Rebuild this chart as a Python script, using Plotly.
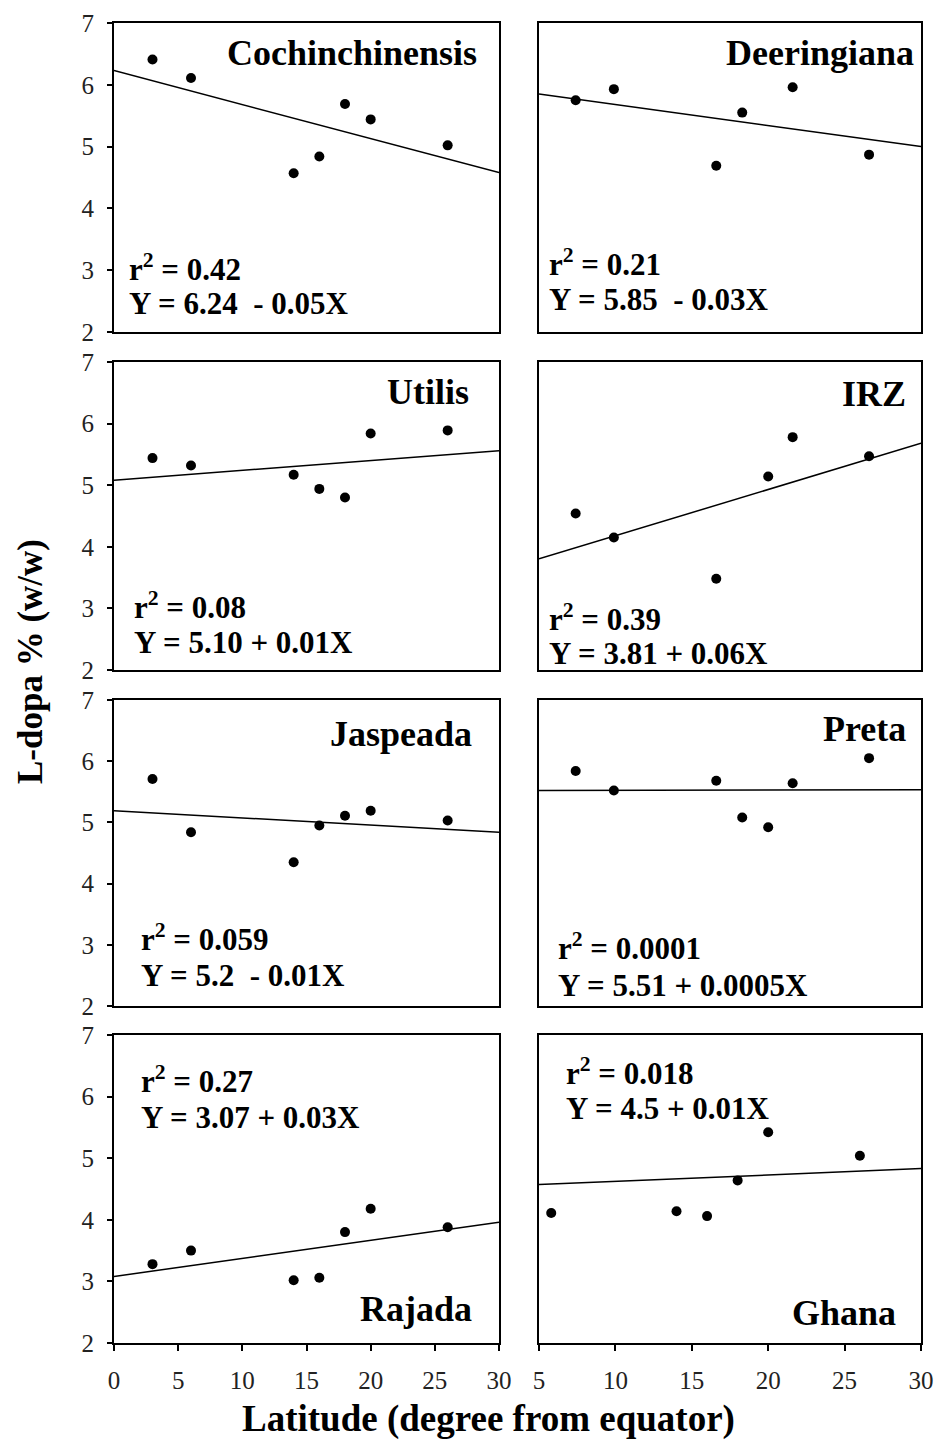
import plotly.graph_objects as go

W, H = 936, 1442

# ---------------- data ----------------
panel_names = ["Cochinchinensis", "Deeringiana", "Utilis", "IRZ",
               "Jaspeada", "Preta", "Rajada", "Ghana"]

lat_left = [3, 6, 14, 16, 18, 20, 26]
cochin_ldopa = [6.41, 6.11, 4.57, 4.84, 5.69, 5.44, 5.02]
utilis_ldopa = [5.44, 5.32, 5.17, 4.94, 4.80, 5.84, 5.89]
jaspeada_ldopa = [5.71, 4.84, 4.35, 4.95, 5.11, 5.19, 5.03]
rajada_ldopa = [3.28, 3.50, 3.02, 3.06, 3.80, 4.18, 3.88]

deer_lat = [7.4, 9.9, 16.6, 18.3, 21.6, 26.6]
deer_ldopa = [5.75, 5.93, 4.69, 5.55, 5.96, 4.87]
irz_lat = [7.4, 9.9, 16.6, 20.0, 21.6, 26.6]
irz_ldopa = [4.54, 4.15, 3.48, 5.14, 5.78, 5.47]
preta_lat = [7.4, 9.9, 16.6, 18.3, 20.0, 21.6, 26.6]
preta_ldopa = [5.84, 5.52, 5.68, 5.08, 4.92, 5.64, 6.05]
ghana_lat = [5.8, 14, 16, 18, 20, 26]
ghana_ldopa = [4.11, 4.14, 4.06, 4.64, 5.42, 5.04]

# drawn regression lines (intercept, slope)
fit_intercept = [6.23, 6.02, 5.08, 3.43, 5.19, 5.52, 3.08, 4.52]
fit_slope = [-0.055, -0.034, 0.016, 0.075, -0.0117, 0.0005, 0.0293, 0.0104]

r2_labels = ["0.42", "0.21", "0.08", "0.39", "0.059", "0.0001", "0.27", "0.018"]
eq_labels = ["Y = 6.24 \u00a0- 0.05X", "Y = 5.85 \u00a0- 0.03X", "Y = 5.10 + 0.01X",
             "Y = 3.81 + 0.06X", "Y = 5.2 \u00a0- 0.01X", "Y = 5.51 + 0.0005X",
             "Y = 3.07 + 0.03X", "Y = 4.5 + 0.01X"]

left_xticks = [0, 5, 10, 15, 20, 25, 30]
right_xticks = [5, 10, 15, 20, 25, 30]
yticks = [2, 3, 4, 5, 6, 7]

xs = [lat_left, deer_lat, lat_left, irz_lat, lat_left, preta_lat, lat_left, ghana_lat]
ys = [cochin_ldopa, deer_ldopa, utilis_ldopa, irz_ldopa,
      jaspeada_ldopa, preta_ldopa, rajada_ldopa, ghana_ldopa]

# ---------------- layout geometry (pixels) ----------------
col_px = [(114, 499), (539, 921)]
row_px = [(23, 332), (362, 670), (700, 1006), (1035, 1343)]
xranges = [[0, 30], [5, 30]]

FONT = "Liberation Serif, Times New Roman, serif"

# label placement: (px x, px y, xanchor) for name, r2 line, eq line
name_pos = [(479, 53, "right"), (916, 53, "right"), (471, 392, "right"), (908, 394, "right"),
            (474, 734, "right"), (908, 729, "right"), (474, 1309, "right"), (898, 1313, "right")]
r2_pos = [(127, 267), (547, 262), (132, 605), (547, 617),
          (139, 937), (556, 946), (139, 1079), (564, 1071)]
eq_pos = [(127, 303), (547, 299), (132, 642), (547, 653),
          (139, 975), (556, 985), (139, 1117), (564, 1108)]

fig = go.Figure()
annotations = []

def px2paper(px, py):
    return px / W, 1 - py / H

for i in range(8):
    r, c = divmod(i, 2)
    ax = "" if i == 0 else str(i + 1)
    xa, ya = "x" + ax, "y" + ax
    x0, x1 = col_px[c]
    y0, y1 = row_px[r]
    xr = xranges[c]

    fig.add_trace(go.Scatter(x=xs[i], y=ys[i], mode="markers",
                             marker=dict(color="black", size=10),
                             xaxis=xa, yaxis=ya, showlegend=False,
                             cliponaxis=False))
    lx = [xr[0], xr[1]]
    ly = [fit_intercept[i] + fit_slope[i] * v for v in lx]
    fig.add_trace(go.Scatter(x=lx, y=ly, mode="lines",
                             line=dict(color="black", width=1.5),
                             xaxis=xa, yaxis=ya, showlegend=False))

    bottom = (r == 3)
    fig.update_layout(**{
        "xaxis" + ax: dict(domain=[x0 / W, x1 / W], anchor=ya, range=xr,
                           automargin=False,
                           showline=True, mirror=True, linecolor="black", linewidth=2,
                           showgrid=False, zeroline=False,
                           tickmode="array",
                           tickvals=(left_xticks if c == 0 else right_xticks) if bottom else [],
                           ticks="outside" if bottom else "", ticklen=6, tickwidth=1.5,
                           tickcolor="black", ticklabelstandoff=8,
                           showticklabels=bottom,
                           tickfont=dict(family=FONT, size=25, color="#222")),
        "yaxis" + ax: dict(domain=[1 - y1 / H, 1 - y0 / H], anchor=xa, range=[2, 7],
                           automargin=False,
                           showline=True, mirror=True, linecolor="black", linewidth=2,
                           showgrid=False, zeroline=False,
                           tickmode="array",
                           tickvals=yticks if c == 0 else [],
                           ticks="outside" if c == 0 else "", ticklen=5, tickwidth=1.5,
                           tickcolor="black", ticklabelstandoff=8,
                           showticklabels=(c == 0),
                           tickfont=dict(family=FONT, size=25, color="#222")),
    })

    nx, ny, anc = name_pos[i]
    px_, py_ = px2paper(nx, ny)
    annotations.append(dict(text="<b>" + panel_names[i] + "</b>", x=px_, y=py_,
                            xref="paper", yref="paper", xanchor=anc, yanchor="middle",
                            showarrow=False, font=dict(family=FONT, size=36, color="black")))
    rx, ry = r2_pos[i]
    px_, py_ = px2paper(rx, ry)
    annotations.append(dict(text="<b>r<sup>2</sup> = " + r2_labels[i] + "</b>", x=px_, y=py_,
                            xref="paper", yref="paper", xanchor="left", yanchor="middle",
                            showarrow=False, font=dict(family=FONT, size=31, color="black")))
    ex, ey = eq_pos[i]
    px_, py_ = px2paper(ex, ey)
    annotations.append(dict(text="<b>" + eq_labels[i] + "</b>", x=px_, y=py_,
                            xref="paper", yref="paper", xanchor="left", yanchor="middle",
                            showarrow=False, font=dict(family=FONT, size=31, color="black")))

# axis titles
px_, py_ = px2paper(30, 662)
annotations.append(dict(text="<b>L-dopa % (w/w)</b>", x=px_, y=py_, xref="paper", yref="paper",
                        xanchor="center", yanchor="middle", textangle=-90, showarrow=False,
                        font=dict(family=FONT, size=35, color="black")))
px_, py_ = px2paper(488, 1419)
annotations.append(dict(text="<b>Latitude (degree from equator)</b>", x=px_, y=py_,
                        xref="paper", yref="paper", xanchor="center", yanchor="middle",
                        showarrow=False, font=dict(family=FONT, size=37, color="black")))

fig.update_layout(width=W, height=H,
                  margin=dict(l=0, r=0, t=0, b=0, pad=0, autoexpand=False),
                  paper_bgcolor="white", plot_bgcolor="white",
                  annotations=annotations, showlegend=False)

fig.write_html("out.html", config=dict(displayModeBar=False),
               post_script="document.body.style.margin='0';document.body.style.padding='0';"
                           "document.body.style.overflow='hidden';")
